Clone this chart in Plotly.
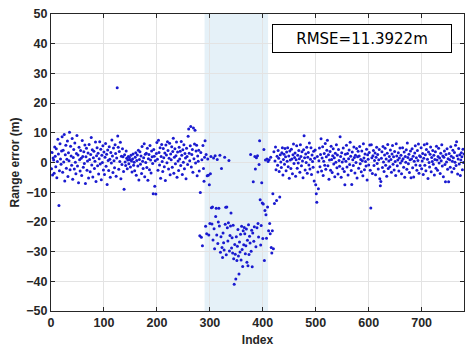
import plotly.graph_objects as go

# Range error per index (m)
range_error = [
    -2.1, 3.4, -4.2, 1.5, 0.8, -3.6, 5.2, 2.1, -1.4, 4.6, -5.1, 0.3, 7.8, 2.9, -14.5, -2.8, 6.3, 1.2, -0.6, 3.9,
    8.7, -3.3, 4.1, 0.2, 9.4, -6.2, 2.6, 5.8, -1.9, 1.1, 7.2, -4.7, 3.3, 0.6, 10.2, -2.4, 5.5, 2.2, -0.9, 8.1,
    -5.6, 1.7, 4.4, -2.2, 6.6, 0.1, -3.8, 3.0, 9.1, -1.2, 2.5, -6.8, 5.1, 0.9, -2.9, 4.0, 1.4, -4.4, 7.4, 2.0,
    -1.6, 3.6, -0.3, 5.9, -7.1, 1.9, 4.8, -2.6, 0.5, 3.2, -5.2, 6.1, 1.0, -3.1, 2.7, 8.4, -0.8, 4.3, -4.9, 1.6,
    3.8, -2.0, 0.4, 6.9, -6.4, 2.3, 5.0, -1.1, 3.1, -3.9, 1.3, 7.0, -0.5, 4.5, -5.8, 2.4, 0.0, 5.6, -2.5, 3.5,
    -4.0, 1.8, 6.4, -1.3, 2.8, -7.4, 4.2, 0.7, -2.7, 5.3, 1.1, -5.0, 3.4, -0.2, 7.6, 2.2, -3.4, 4.9, 0.6, -1.8,
    6.0, 3.0, -4.6, 1.5, 25.2, 8.9, 5.1, -2.3, 3.7, 0.3, 6.8, -5.5, 2.1, -0.7, 4.6, 1.9, -3.0, -9.0, 2.6, 0.2,
    -1.0, 3.9, 1.4, -2.1, 0.8, 2.0, -0.4, 1.7, 0.9, -1.5, 2.4, 0.5, -3.2, 1.2, 2.9, -0.9, 0.1, -2.8, 1.8, 3.3,
    -4.3, 0.7, 2.5, -1.2, 4.1, -5.9, 1.0, 3.6, -0.6, 2.2, -3.7, 5.4, 0.4, -2.0, 1.6, 6.3, -4.8, 2.8, 0.0, 3.1,
    -1.7, 4.8, -6.0, 1.3, 2.7, -2.4, 5.7, 0.8, -3.5, 3.9, 1.9, -0.3, -10.5, 4.4, 2.1, -8.0, 0.6, -10.6, 3.0, 6.7,
    1.1, -2.6, 7.5, 3.4, -0.8, 5.0, -5.3, 2.0, 6.1, 0.3, -3.0, 4.7, 1.6, -1.4, 3.2, -6.1, 5.9, 2.5, -0.1, 7.0,
    4.0, -2.2, 1.4, 6.5, -4.1, 2.9, 0.9, 5.3, -1.6, 3.7, 8.2, -3.6, 1.8, 4.6, -0.4, 2.3, 6.9, -5.0, 3.5, 0.5,
    -2.7, 5.1, 1.2, 3.8, -1.0, 7.1, 2.4, -4.0, 4.3, 0.1, 6.0, -2.1, 3.0, 1.5, -5.5, 4.8, 2.0, -0.7, 8.8, 11.3,
    3.1, 0.6, 5.6, 12.1, -1.5, 2.7, 4.4, -3.3, 11.6, 1.3, 6.2, 10.9, -0.2, 3.9, 5.8, -4.5, 2.2, 0.4, 4.1, -2.9,
    -24.7, -10.1, 3.4, -25.2, 0.9, -28.0, 5.7, -2.0, -6.3, 1.8,
    7.3, -21.5, 2.7, -24.0, -4.5, 1.2, -4.3, -24.4, -7.5, -20.5,
    -3.8, 2.0, -15.2, -20.7, -15.0, -26.1, 1.5, -22.3, -29.0, 2.3, -18.2, -15.4, -24.4, 1.0, -27.3, -20.0, -15.4, -21.4, 2.4, -30.2,
    -25.0, -2.0, -28.6, -32.0, -23.7, -27.0, -29.5, 1.8, -20.8, -15.1, -31.1, -15.0, -22.0, -26.4, -20.3, 0.7, -29.8, -24.6, -21.4, -17.0,
    -28.8, -25.3, -30.5, -21.1, -32.4, -41.0, -27.6, -30.9, -39.2, -25.0, -33.0, -28.2, -22.6, -31.5, -37.5, -26.8, -30.1, -24.2, -32.8, -21.5,
    -29.3, -35.0, -23.0, -27.7, -21.9, -24.0, -30.7, -28.0, -22.4, -33.6, -26.2, -34.8, -21.0, -31.0, -24.8, -27.1, 2.7, -29.9, -22.8, -35.1,
    -23.7, -6.5, -26.5, -21.6, 2.0, -2.2, -28.4, 1.6, -22.0, 2.3, -20.5, -25.1, -0.7, 7.3, -12.5, -27.8, -21.2, -6.8, -13.6, -25.6,
    -14.0, 4.4, -33.0, -16.2, 0.8, -17.6, -25.5, 1.2, -15.0, 0.3, -23.0, 0.9, -20.5, -24.0, 1.8, -28.6, -30.5, -23.0, -10.5, -29.0,
    3.6, -13.8, 0.5, 5.2, -2.4, -12.8, 2.1, -0.9, 4.0, 1.4, -3.0, -11.6, 2.6, 0.2, -1.7, 3.3, 5.0, -4.2, 1.0, 2.8,
    -0.6, 4.7, 1.9, -2.8, 3.5, 0.4, 5.0, -1.4, 2.2, -5.3, 3.9, 0.8, -2.0, 4.5, 1.2, -3.8, 2.6, 6.2, -0.3, 1.7,
    3.2, -4.6, 0.9, 5.6, -1.9, 2.4, -0.2, 4.0, 1.3, -3.3, 6.0, 2.0, -1.1, 3.6, 0.5, -5.1, 4.3, 9.0, 1.6, -2.5,
    2.9, 0.0, 5.1, -3.6, 1.8, 3.4, -0.8, 6.6, -2.2, 1.1, 5.0, -4.0, 2.5, 0.3, -1.6, 3.8, -6.2, 1.4, 4.2, -7.5,
    -10.5, -13.4, 2.0, -3.2, -8.8, 0.6, 4.9, -1.4, 2.7, 8.0, -2.9, 1.5, 5.3, -4.4, 0.4, 3.0, -0.9, 6.4, -2.3, 1.9,
    4.1, 7.5, -1.1, 2.6, -5.6, 0.8, 3.7, -2.6, 5.5, 1.0, -3.4, 2.3, 4.6, -0.5, 1.6, -4.8, 3.1, 0.1, 6.0, -1.8,
    2.5, -3.9, 4.4, 0.7, -1.3, 8.7, 2.0, -5.0, 3.3, 0.2, -2.1, 4.9, 1.2, -3.0, -7.5, 2.8, 0.4, 5.8, -1.5, 3.0,
    -4.2, 1.3, 4.2, -0.7, 6.8, 2.1, -2.7, -7.4, 3.5, 0.9, -1.0, 5.2, 1.7, -3.5, 2.4, 0.0, 4.7, -5.2, 1.9, 3.8,
    -1.9, 2.2, 5.4, -0.4, 1.0, -3.1, 3.9, 0.6, -4.5, 6.3, 1.5, -2.4, 2.9, 0.3, -1.2, 4.5, -5.9, 2.6, 1.1, -0.8,
    3.4, 5.9, -2.6, -15.3, 6.0, 1.6, -3.7, 2.3, 4.0, -1.0, 0.7, 3.2, -4.1, 1.8, 5.1, -0.3, 2.7, -2.2, 0.9, 4.4,
    -5.5, -7.8, -6.4, 1.4, 3.6, -1.7, 5.4, 0.2, -3.0, 2.5, 4.8, -0.9, 1.2, -4.6, 3.1, 6.1, -2.0, 0.5, 2.0, -1.4,
    4.2, 1.0, -3.3, 2.9, 5.7, -0.6, 1.9, -2.5, 3.7, 0.3, -4.4, 6.3, 2.2, -1.1, 0.8, 3.3, -2.9, 1.5, 4.9, -0.2,
    2.4, -3.8, 0.6, 5.0, 1.3, -1.6, 3.5, -5.0, 2.0, 0.1, 4.3, -2.3, 6.6, 1.7, -0.4, 2.8, -3.4, 0.9, 3.9, -5.1,
    1.2, 4.6, -1.8, 2.1, -4.9, 0.4, 3.2, 5.6, -0.8, 1.6, -2.6, 4.0, 0.7, 6.2, -3.6, 2.3, -1.0, 1.9, 5.0, -2.1,
    0.5, 3.0, -4.0, 1.4, 6.0, -0.9, 2.6, -2.8, 4.4, 6.3, 1.1, -5.4, 3.5, 0.0, -1.5, 2.8, 5.2, -3.1, 1.7, 0.3,
    4.0, -0.6, 2.4, -4.2, 1.0, 3.6, -1.9, 5.5, 0.8, -2.6, 2.0, 4.8, -0.2, 1.5, -3.7, 3.1, 0.6, 6.0, -1.2, 2.2,
    -4.8, 1.8, 3.9, -0.7, -6.5, 2.7, 0.2, 4.6, -2.3, 1.3, -6.5, 3.0, 0.9, -1.6, 5.3, 2.1, -3.2, 0.4, 4.1, 1.6,
    -2.0, 3.4, 0.1, 5.8, -1.0, 7.0, 2.3, -3.9, 1.2, 4.7, -0.5, 2.6, -4.4, 0.8, 3.3, 1.9, -2.4, 4.5, 0.0, 2.9,
]
index = list(range(1, len(range_error) + 1))

# Highlighted (NLOS) interval
shade_start, shade_end = 290, 410
rmse_text = "RMSE=11.3922m"

x_ticks = [0, 100, 200, 300, 400, 500, 600, 700]
y_ticks = [-50, -40, -30, -20, -10, 0, 10, 20, 30, 40, 50]

fig = go.Figure()
fig.add_vrect(x0=shade_start, x1=shade_end, fillcolor="rgba(0,114,189,0.10)",
              line_width=0, layer="below")
fig.add_trace(go.Scatter(
    x=index, y=range_error, mode="markers",
    marker=dict(size=3, color="#1a1ad0", line=dict(width=0)),
    showlegend=False,
))

axis_common = dict(
    showline=True, linecolor="#262626", linewidth=1, mirror="allticks",
    ticks="inside", ticklen=4, tickcolor="#262626",
    showgrid=True, gridcolor="#e3e3e3", gridwidth=1, zeroline=False,
    tickfont=dict(family="Liberation Sans, Arial, sans-serif", size=12.5, color="#262626", weight="bold"),
)
fig.update_xaxes(range=[0, 780], tickvals=x_ticks,
                 title=dict(text="<b>Index</b>", standoff=6,
                            font=dict(family="Liberation Sans, Arial, sans-serif", size=12, color="#262626")),
                 **axis_common)
fig.update_yaxes(range=[-50, 50], tickvals=y_ticks,
                 title=dict(text="<b>Range error (m)</b>", standoff=4,
                            font=dict(family="Liberation Sans, Arial, sans-serif", size=12, color="#262626")),
                 **axis_common)

fig.add_annotation(
    xref="paper", yref="paper", x=0.7526, y=0.917, xanchor="center", yanchor="middle",
    text=rmse_text, showarrow=False,
    font=dict(family="DejaVu Sans, Verdana, sans-serif", size=15, color="#000000"),
    bgcolor="#ffffff", bordercolor="#000000", borderwidth=1,
    width=176, height=25,
)

fig.update_layout(
    width=472, height=354,
    margin=dict(l=51, r=7, t=9, b=43),
    paper_bgcolor="#ffffff", plot_bgcolor="#ffffff",
)

fig.write_html("out.html")
